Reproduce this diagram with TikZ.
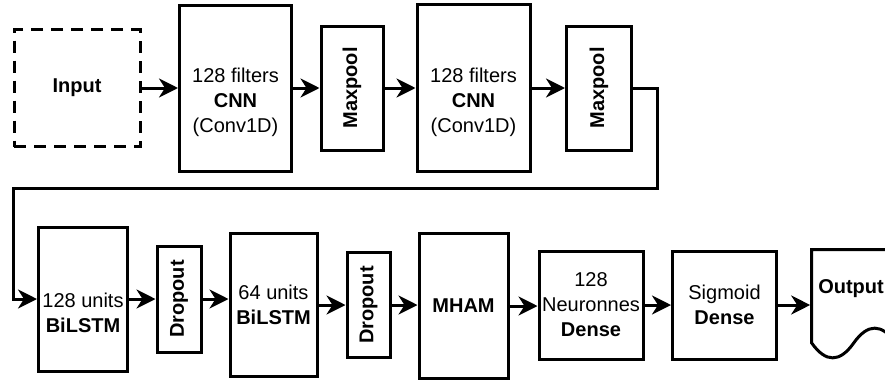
\documentclass[tikz,border=0pt]{standalone}
\usepackage{fontspec}
\setmainfont{Liberation Sans}
\usepackage{graphicx}
\usetikzlibrary{arrows.meta,positioning}

\begin{document}
\begin{tikzpicture}[x=1pt,y=-1pt,>={Stealth[length=19pt,width=19pt,inset=6pt]}]
    \tikzset{
        blk/.style={draw, line width=3pt, inner sep=0pt, align=center, font=\fontsize{20}{25}\selectfont},
        arr/.style={->, line width=3pt},
    }
        \useasboundingbox (0,0) rectangle (885,383);

        % first row
        \node[blk, dash pattern=on 12pt off 8pt, minimum width=126pt, minimum height=117pt] (inp) at (77,88) {\textbf{Input}};
        \node[blk, minimum width=112pt, minimum height=166pt] (cnn1) at (235.5,88) {\strut\\128 filters\\\textbf{CNN}\\(Conv1D)};
        \node[blk, minimum width=62pt, minimum height=124pt] (mp1) at (352,88) {\rotatebox{90}{\textbf{Maxpool}}};
        \node[blk, minimum width=113pt, minimum height=167pt] (cnn2) at (473.5,88) {\strut\\128 filters\\\textbf{CNN}\\(Conv1D)};
        \node[blk, minimum width=65pt, minimum height=124pt] (mp2) at (599,88) {\rotatebox{90}{\textbf{Maxpool}}};

        % second row
        \node[blk, minimum width=89pt, minimum height=144pt] (bl1) at (83,299) {\strut\\128 units\\\textbf{BiLSTM}};
        \node[blk, minimum width=44pt, minimum height=106pt] (do1) at (179,299) {\rotatebox{90}{\textbf{Dropout}}};
        \node[blk, minimum width=87pt, minimum height=143pt] (bl2) at (273.5,305) {64 units\\\textbf{BiLSTM}};
        \node[blk, minimum width=43pt, minimum height=105pt] (do2) at (368.5,305) {\rotatebox{90}{\textbf{Dropout}}};
        \node[blk, minimum width=89pt, minimum height=145pt] (mham) at (463.5,306) {\textbf{MHAM}};
        \node[blk, minimum width=104pt, minimum height=108pt] (den1) at (591,305) {128\\Neuronnes\\\textbf{Dense}};
        \node[blk, minimum width=104pt, minimum height=108pt] (den2) at (724.5,305) {Sigmoid\\\textbf{Dense}};
        \node[blk, draw=none, minimum width=84pt, minimum height=110pt] (out) at (853.7,304.5) {};
        \node[blk, draw=none] (outlbl) at (851,288.5) {\textbf{Output}};

        % output sheet with wavy bottom
        \draw[line width=3pt] (811.7,249.5) -- (895.7,249.5) -- (895.7,343) .. controls (881.7,323.2) and (867.7,323.2) .. (853.7,343) .. controls (839.7,362.8) and (825.7,362.8) .. (811.7,343) -- cycle;

        \coordinate (loopR) at (657,188);
        \coordinate (loopL) at (13,188);

        \draw [arr] (inp.east) -- (inp.east -| cnn1.west);
        \draw [arr] (cnn1.east) -- (cnn1.east -| mp1.west);
        \draw [arr] (mp1.east) -- (mp1.east -| cnn2.west);
        \draw [arr] (cnn2.east) -- (cnn2.east -| mp2.west);
        \draw [arr] (mp2.east) -| (loopR) -- (loopL) |- (bl1.west);
        \draw [arr] (bl1.east) -- (bl1.east -| do1.west);
        \draw [arr] (do1.east) -- (do1.east -| bl2.west);
        \draw [arr] (bl2.east) -- (bl2.east -| do2.west);
        \draw [arr] (do2.east) -- (do2.east -| mham.west);
        \draw [arr] (mham.east) -- (mham.east -| den1.west);
        \draw [arr] (den1.east) -- (den1.east -| den2.west);
        \draw [arr] (den2.east) -- (den2.east -| out.west);
    \end{tikzpicture}
\end{document}
